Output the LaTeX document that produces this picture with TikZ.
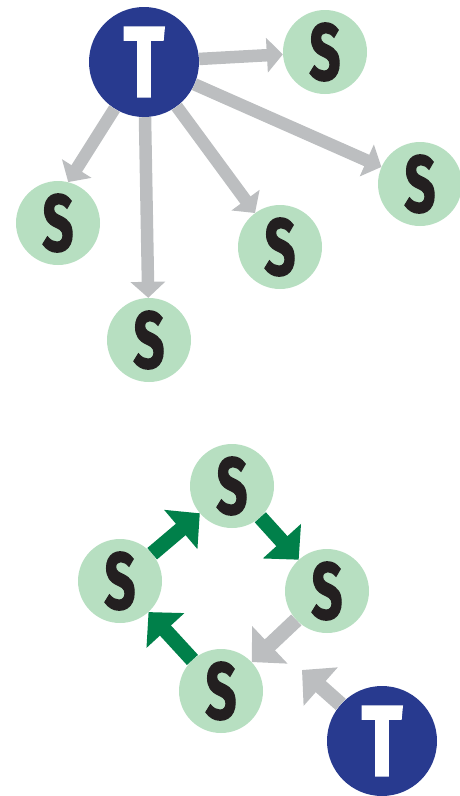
\documentclass[tikz,border=0pt]{standalone}
\usepackage{fontspec}
\setmainfont{Fira Sans}
\newfontfamily\heavyfont{Fira Sans}[BoldFeatures={FakeBold=2}]
\usetikzlibrary{arrows.meta}
\definecolor{navy}{HTML}{283A8F}
\definecolor{paleg}{HTML}{B7DFC1}
\definecolor{deepg}{HTML}{00804A}
\definecolor{greyarr}{HTML}{BCBEC0}
\definecolor{ink}{HTML}{231F20}
\tikzset{
  snode/.style={circle, fill=paleg, minimum size=84pt, inner sep=0pt,
    text=ink, font=\fontsize{80}{80}\heavyfont\bfseries},
  tnode/.style={circle, fill=navy, minimum size=110pt, inner sep=0pt,
    text=white, font=\fontsize{100}{100}\heavyfont\bfseries},
  greysmall/.style={draw=greyarr, line width=12.5pt,
    -{Triangle[length=16pt,width=34pt]}},
  greybig/.style={draw=greyarr, line width=15pt,
    -{Triangle[length=25pt,width=50pt]}},
  greenbig/.style={draw=deepg, line width=15pt,
    -{Triangle[length=25pt,width=50pt]}},
}
\newcommand{\sletter}{\scalebox{0.68}[1]{S}}
\newcommand{\tletter}{\scalebox{0.75}[1]{T}}
\begin{document}
\begin{tikzpicture}[x=1pt,y=-1pt]
\useasboundingbox (0,0) rectangle (460,796);

% star: one T acting on five S
\node[tnode]  (T1)  at (144,62)  {\tletter};
\node[snode]  (S1)  at (325,52)  {\sletter};
\node[snode]  (S2)  at (420,184) {\sletter};
\node[snode]  (S3)  at (58,223)  {\sletter};
\node[snode]  (S4)  at (280,247) {\sletter};
\node[snode]  (S5)  at (149,340) {\sletter};

\draw[greysmall] (T1) -- (S1);
\draw[greysmall] (T1) -- (S2);
\draw[greysmall] (T1) -- (S3.76);
\draw[greysmall] (T1) -- (S4);
\draw[greysmall] (T1) -- (S5);

% cycle of four S, with a T acting on one link
\node[snode]  (C1)  at (232,486) {\sletter};
\node[snode]  (C2)  at (120,581) {\sletter};
\node[snode]  (C3)  at (327,591) {\sletter};
\node[snode]  (C4)  at (221,691) {\sletter};
\node[tnode]  (T2)  at (382,741) {\tletter};
\coordinate (hit) at (302,670);

\draw[greenbig] (C2) -- (C1);
\draw[greenbig] (C1) -- (C3);
\draw[greenbig] (C4) -- (C2);
\draw[greybig]  (C3) -- (C4);
\draw[greybig]  (T2) -- (hit);
\end{tikzpicture}
\end{document}
